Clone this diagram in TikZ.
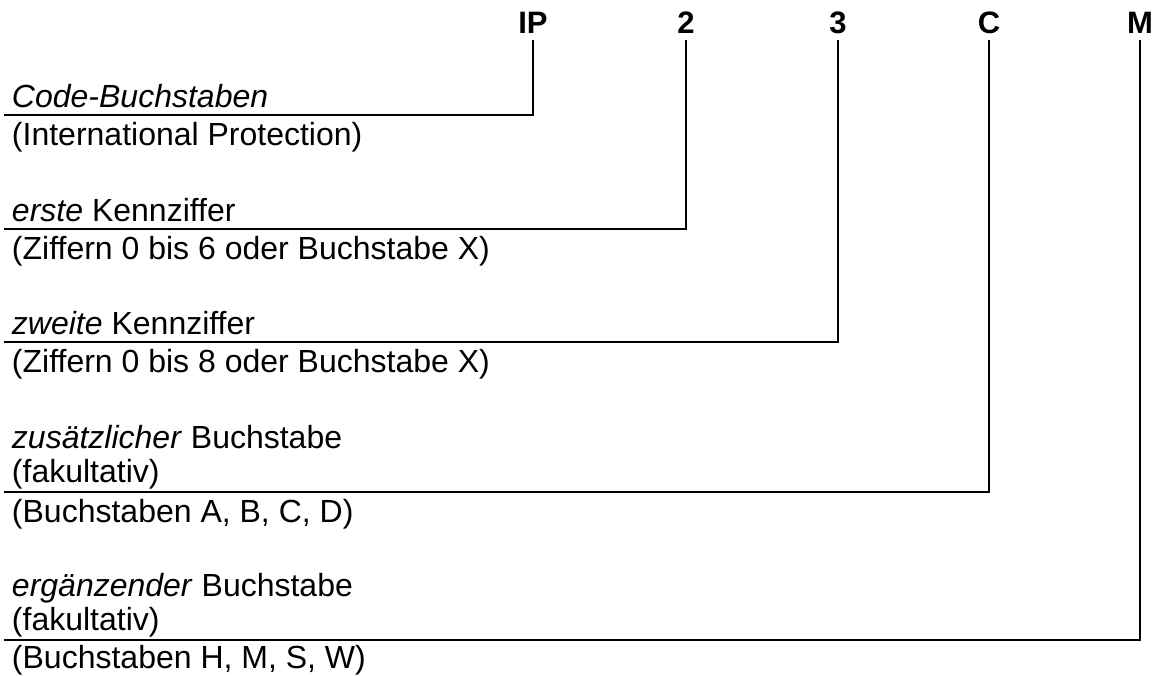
\documentclass[tikz,border=0pt]{standalone}
\usepackage{fontspec}
\setmainfont{Liberation Sans}
\begin{document}
\begin{tikzpicture}[x=1pt,y=-1pt,
  code/.style={font=\fontsize{31}{36}\selectfont\bfseries, anchor=base,
    inner xsep=0pt, inner ysep=8pt, outer sep=0pt},
  desc/.style={font=\fontsize{32}{36}\selectfont, anchor=base west,
    inner sep=0pt, outer sep=0pt},
  leader/.style={line width=2.3pt, line cap=rect}]
\useasboundingbox (0,0) rectangle (1156,675);

% code letters along the top
\node[code] (ip) at (533,33) {IP};
\node[code] (d1) at (686,33) {2};
\node[code] (d2) at (838,33) {3};
\node[code] (ca) at (989,33) {C};
\node[code] (cb) at (1140,33) {M};

% left ends of the leader lines
\coordinate (ipend) at (5,115);
\coordinate (d1end) at (5,229);
\coordinate (d2end) at (5,342);
\coordinate (caend) at (5,492);
\coordinate (cbend) at (5,640);

% descriptions
\node[desc] (t1a) at (12,107) {\textit{Code-Buchstaben}};
\node[desc] (t1b) at (12,145) {(International Protection)};
\node[desc] (t2a) at (12,221) {\textit{erste} Kennziffer};
\node[desc] (t2b) at (12,259) {(Ziffern 0 bis 6 oder Buchstabe X)};
\node[desc] (t3a) at (12,334) {\textit{zweite} Kennziffer};
\node[desc] (t3b) at (12,372) {(Ziffern 0 bis 8 oder Buchstabe X)};
\node[desc] (t4a) at (12,448) {\textit{zusätzlicher} Buchstabe};
\node[desc] (t4b) at (12,482) {(fakultativ)};
\node[desc] (t4c) at (12,522) {(Buchstaben A, B, C, D)};
\node[desc] (t5a) at (12,596) {\textit{ergänzender} Buchstabe};
\node[desc] (t5b) at (12,630) {(fakultativ)};
\node[desc] (t5c) at (12,668) {(Buchstaben H, M, S, W)};

% leader lines
\draw[leader] (ip.south) |- (ipend);
\draw[leader] (d1.south) |- (d1end);
\draw[leader] (d2.south) |- (d2end);
\draw[leader] (ca.south) |- (caend);
\draw[leader] (cb.south) |- (cbend);
\end{tikzpicture}
\end{document}
